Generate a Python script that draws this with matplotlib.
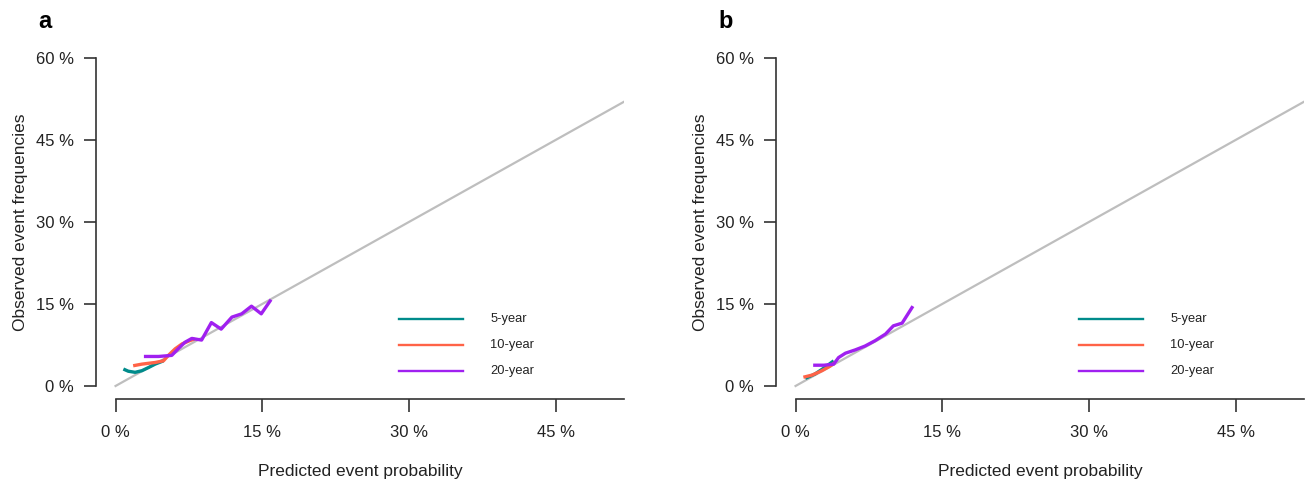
import matplotlib.pyplot as plt

# calibration curves, values in percent (predicted, observed)
a_5y_x = [0.8, 1.3, 2.0, 2.7, 3.4, 4.05, 4.9]
a_5y_y = [3.1, 2.7, 2.5, 2.8, 3.4, 4.0, 4.6]
a_10y_x = [1.8, 2.7, 4.05, 4.9, 5.4, 6.1, 6.8, 7.6, 8.1]
a_10y_y = [3.7, 4.0, 4.3, 4.6, 5.6, 6.8, 7.7, 8.3, 8.6]
a_20y_x = [2.9, 4.4, 5.75, 6.4, 7.1, 7.8, 8.8, 9.8, 10.8, 11.9, 12.9, 13.9, 14.9, 15.9]
a_20y_y = [5.4, 5.4, 5.6, 6.8, 8.0, 8.7, 8.4, 11.6, 10.4, 12.6, 13.2, 14.6, 13.2, 15.8]

b_5y_x = [1.0, 2.0, 3.0, 3.9]
b_5y_y = [1.4, 2.2, 3.4, 4.6]
b_10y_x = [0.8, 1.7, 2.7, 3.5, 4.05]
b_10y_y = [1.6, 2.0, 2.8, 3.6, 4.3]
b_20y_x = [1.8, 2.9, 3.9, 4.4, 5.1, 6.1, 7.1, 8.15, 9.2, 10.0, 10.9, 12.0]
b_20y_y = [3.8, 3.8, 4.0, 5.2, 6.0, 6.6, 7.3, 8.3, 9.5, 11.0, 11.5, 14.6]

diag = [0, 52]
ticks_x = [0, 15, 30, 45]
ticks_y = [0, 15, 30, 45, 60]
labels = ["5-year", "10-year", "20-year"]
colors = ["#008B8B", "#FF6347", "#A020F0"]

plt.rcParams['font.family'] = ['Liberation Sans', 'DejaVu Sans']
axis_col = "#333333"

fig = plt.figure(figsize=(13.08, 4.86), dpi=100)

panels = [
    ("a", 96, [(a_5y_x, a_5y_y), (a_10y_x, a_10y_y), (a_20y_x, a_20y_y)]),
    ("b", 776, [(b_5y_x, b_5y_y), (b_10y_x, b_10y_y), (b_20y_x, b_20y_y)]),
]

for letter, left_px, curves in panels:
    ax = fig.add_axes([left_px / 1308, 1 - 399.1 / 486, 528 / 1308, 354.2 / 486])
    ax.set_xlim(-2, 52)
    ax.set_ylim(-2.4, 62.4)

    ax.plot(diag, diag, color="#BEBEBE", lw=1.6, zorder=1)
    for (xs, ys), c in zip(curves, colors):
        ax.plot(xs, ys, color=c, lw=2.4, solid_capstyle="butt", zorder=2)

    # legend drawn by hand, R style
    for i, (lab, c) in enumerate(zip(labels, colors)):
        yy = 12.3 - i * 4.8
        ax.plot([29.0, 35.5], [yy, yy], color=c, lw=1.7)
        ax.text(38.3, yy, lab, fontsize=9.3, va="center", ha="left", color="#222222")

    for s in ["top", "right"]:
        ax.spines[s].set_visible(False)
    ax.spines["left"].set_bounds(0, 60)
    ax.spines["bottom"].set_bounds(0, 52)
    for s in ["left", "bottom"]:
        ax.spines[s].set_color(axis_col)
        ax.spines[s].set_linewidth(1.2)

    ax.set_xticks(ticks_x)
    ax.set_xticklabels([f"{t} %" for t in ticks_x])
    ax.set_yticks(ticks_y)
    ax.set_yticklabels([f"{t} %" for t in ticks_y])
    ax.tick_params(length=9, width=1.2, color=axis_col, labelsize=12,
                   labelcolor="#222222")
    ax.tick_params(axis="x", pad=10)
    ax.tick_params(axis="y", pad=7)

    ax.set_xlabel("Predicted event probability", fontsize=12.5, color="#222222")
    ax.xaxis.set_label_coords(0.5, -0.205)
    ax.xaxis.label.set_va("center")
    ax.set_ylabel("Observed event frequencies", fontsize=12.5, color="#222222")
    ax.yaxis.set_label_coords(-0.143, 0.5)
    ax.yaxis.label.set_va("center")

    fig.text((left_px - 58) / 1308, 1 - 21 / 486, letter, fontsize=17,
             fontweight="bold", ha="left", va="center")

fig.savefig("out.png", dpi=100)
